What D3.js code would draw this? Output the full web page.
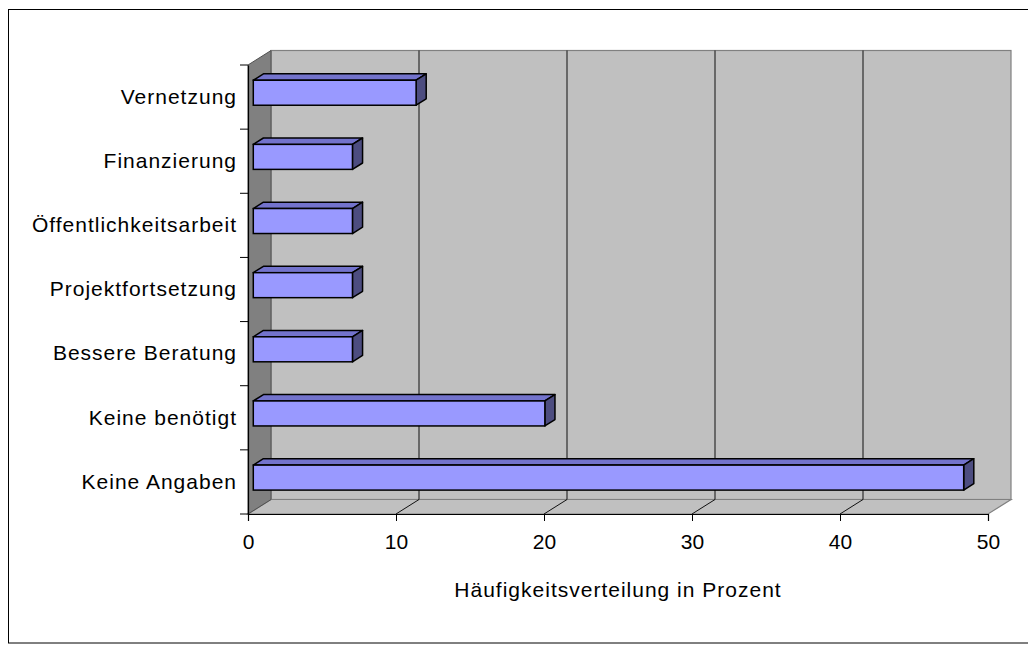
<!DOCTYPE html>
<html>
<head>
<meta charset="utf-8">
<script src="https://cdn.jsdelivr.net/npm/d3@7"></script>
<style>
  html, body { margin: 0; padding: 0; background: #fff; }
  svg { display: block; }
  text { font-family: "Liberation Sans", Arial, sans-serif; fill: #000; }
</style>
</head>
<body>
<svg id="chart" width="1028" height="646"></svg>
<script>
// Antworten (Mehrfachnennungen möglich), Angaben in Prozent
const categories = [
  "Vernetzung",
  "Finanzierung",
  "Öffentlichkeitsarbeit",
  "Projektfortsetzung",
  "Bessere Beratung",
  "Keine benötigt",
  "Keine Angaben"
];
const values = [11.0, 6.7, 6.7, 6.7, 6.7, 19.7, 48.0];
const xTicks = [0, 10, 20, 30, 40, 50];
const xTitle = "Häufigkeitsverteilung in Prozent";

const FONT = "Liberation Sans, Arial, sans-serif";
const FS = 21, LS = 1;

const svg = d3.select("#chart");

// outer frame
svg.append("rect")
  .attr("x", 8.5).attr("y", 9.5)
  .attr("width", 1030).attr("height", 633.5)
  .attr("fill", "#fff").attr("stroke", "#000").attr("stroke-width", 1);

// front plane of the 3D box and its depth vector
const plotL = 248, plotR = 988, plotT = 65, plotB = 514;
const depth = { x: 23, y: -14.5 };

const x = d3.scaleLinear().domain([0, 50]).range([plotL, plotR]);
const y = d3.scaleBand().domain(categories).range([plotT, plotB]).padding(0);

const g = svg.append("g");
const pts = arr => arr.map(p => p.join(",")).join(" ");

// back wall
g.append("rect")
  .attr("x", plotL + depth.x).attr("y", plotT + depth.y)
  .attr("width", plotR - plotL).attr("height", plotB - plotT)
  .attr("fill", "#c0c0c0").attr("stroke", "#808080").attr("stroke-width", 1.2);

// floor
g.append("polygon")
  .attr("points", pts([
    [plotL, plotB], [plotL + depth.x, plotB + depth.y],
    [plotR + depth.x, plotB + depth.y], [plotR, plotB]
  ]))
  .attr("fill", "#c0c0c0").attr("stroke", "#808080").attr("stroke-width", 1.2);

// left side wall
g.append("polygon")
  .attr("points", pts([
    [plotL, plotB], [plotL, plotT],
    [plotL + depth.x, plotT + depth.y], [plotL + depth.x, plotB + depth.y]
  ]))
  .attr("fill", "#808080").attr("stroke", "#505050").attr("stroke-width", 1);

// gridlines on back wall and floor
const grid = g.append("g");
xTicks.filter(t => t > 0 && t < 50).forEach(t => {
  const xb = x(t) + depth.x;
  grid.append("path")
    .attr("d", `M${xb},${plotT + depth.y}V${plotB + depth.y}L${x(t)},${plotB}`)
    .attr("fill", "none").attr("stroke", "#111").attr("stroke-width", 1);
});

// bars: front face sits between depth fractions t1 and t2
const t1 = 0.23, t2 = 0.67;
const barH = 25;
const bx0 = x(0) + depth.x * t1;
const dx = depth.x * (t2 - t1), dy = depth.y * (t2 - t1);

const bars = g.append("g").selectAll("g.bar")
  .data(categories.map((c, i) => ({ cat: c, value: values[i] })))
  .join("g").attr("class", "bar");

bars.each(function(d) {
  const sel = d3.select(this);
  const yc = y(d.cat) + y.bandwidth() / 2 + depth.y * t1 - 1;
  const y0 = yc - barH / 2, y1 = yc + barH / 2;
  const x1 = x(d.value) + depth.x * t1;
  // top face
  sel.append("polygon")
    .attr("points", pts([[bx0, y0], [bx0 + dx, y0 + dy], [x1 + dx, y0 + dy], [x1, y0]]))
    .attr("fill", "#7373cc").attr("stroke", "#000").attr("stroke-width", 1.5)
    .attr("stroke-linejoin", "round");
  // end face
  sel.append("polygon")
    .attr("points", pts([[x1, y0], [x1 + dx, y0 + dy], [x1 + dx, y1 + dy], [x1, y1]]))
    .attr("fill", "#4d4d80").attr("stroke", "#000").attr("stroke-width", 1.5)
    .attr("stroke-linejoin", "round");
  // front face
  sel.append("rect")
    .attr("x", bx0).attr("y", y0)
    .attr("width", x1 - bx0).attr("height", barH)
    .attr("fill", "#9999ff").attr("stroke", "#000").attr("stroke-width", 1.5);
});

// axes
const xAxis = d3.axisBottom(x).tickValues(xTicks).tickSize(7).tickPadding(13);
const xg = svg.append("g").attr("transform", `translate(0,${plotB})`).call(xAxis);
xg.select(".domain").attr("stroke", "#000").attr("stroke-width", 1.2);
xg.selectAll(".tick line").attr("stroke", "#000");
xg.selectAll(".tick text").attr("font-size", FS).attr("font-family", FONT);

const yAxis = d3.axisLeft(y).tickSize(0).tickPadding(11);
const yg = svg.append("g").attr("transform", `translate(${plotL},0)`).call(yAxis);
yg.select(".domain").attr("stroke", "#000").attr("stroke-width", 1.2);
yg.selectAll(".tick text").attr("font-size", FS).attr("font-family", FONT)
  .attr("letter-spacing", LS);

// category separator ticks on the category axis
const sepY = categories.map(c => y(c)).concat([plotB]);
svg.append("g").selectAll("line").data(sepY).join("line")
  .attr("x1", plotL - 8).attr("x2", plotL)
  .attr("y1", d => d).attr("y2", d => d)
  .attr("stroke", "#000").attr("stroke-width", 1);

// axis title
svg.append("text")
  .attr("x", (x(0) + x(50)) / 2).attr("y", 597)
  .attr("text-anchor", "middle").attr("font-size", FS)
  .attr("letter-spacing", LS)
  .text(xTitle);
</script>
</body>
</html>
